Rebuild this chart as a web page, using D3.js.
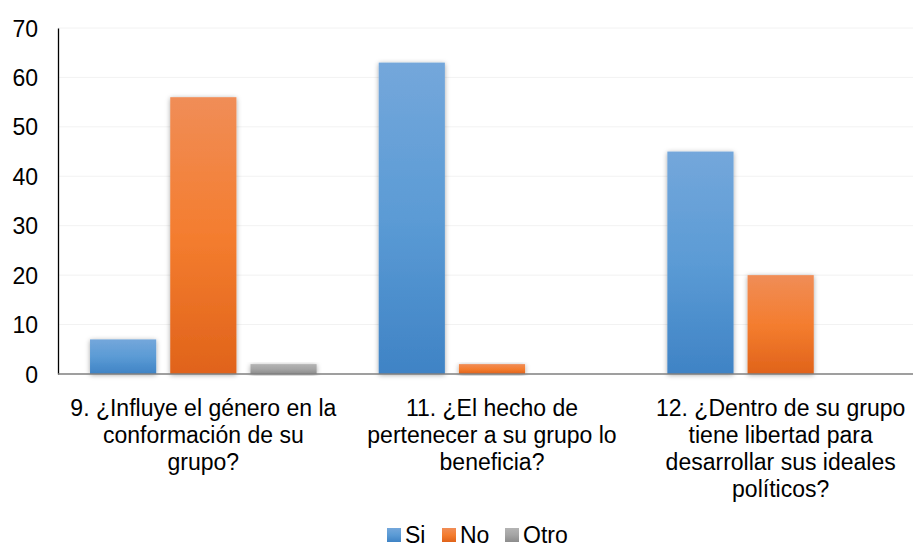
<!DOCTYPE html>
<html>
<head>
<meta charset="utf-8">
<script src="https://cdn.jsdelivr.net/npm/d3@7"></script>
<style>
  body { margin: 0; background: #fff; }
  svg { font-family: "Liberation Sans", Arial, sans-serif; }
  .tick text { font-size: 23px; fill: #000; }
  .cat { font-size: 23px; fill: #000; }
  .leg { font-size: 23px; fill: #000; }
</style>
</head>
<body>
<div id="chart"></div>
<script>
// data
var categories = [
  ["9. ¿Influye el género en la", "conformación de su", "grupo?"],
  ["11. ¿El hecho de", "pertenecer a su grupo lo", "beneficia?"],
  ["12. ¿Dentro de su grupo", "tiene libertad para", "desarrollar sus ideales", "políticos?"]
];
var series = ["Si", "No", "Otro"];
var siValues = [7, 63, 45];
var noValues = [56, 2, 20];
var otroValues = [2, 0, 0];
var yTicks = [0, 10, 20, 30, 40, 50, 60, 70];

var colors = {
  Si:   ["#74a7db", "#5b9bd5", "#3f83c5"],
  No:   ["#f08d57", "#f47d2f", "#e0631a"],
  Otro: ["#b4b4b4", "#a5a5a5", "#8c8c8c"]
};

/////////////////////////////////////////////////////////////////////

var width = 913, height = 548;
var svg = d3.select("#chart").append("svg")
  .attr("width", width)
  .attr("height", height);

var defs = svg.append("defs");
series.forEach(function(s) {
  var g = defs.append("linearGradient")
    .attr("id", "grad" + s)
    .attr("x1", 0).attr("y1", 0).attr("x2", 0).attr("y2", 1);
  g.append("stop").attr("offset", "0%").attr("stop-color", colors[s][0]);
  g.append("stop").attr("offset", "50%").attr("stop-color", colors[s][1]);
  g.append("stop").attr("offset", "100%").attr("stop-color", colors[s][2]);
});
var shadow = defs.append("filter").attr("id", "shadow")
  .attr("x", "-20%").attr("y", "-20%").attr("width", "140%").attr("height", "140%");
shadow.append("feDropShadow")
  .attr("dx", 0).attr("dy", 1).attr("stdDeviation", 2.5)
  .attr("flood-color", "#000").attr("flood-opacity", 0.35);

var x0 = d3.scaleBand()
  .domain(d3.range(categories.length))
  .range([59, 925])
  .paddingInner(0.215)
  .paddingOuter(0.1075);

var x1 = d3.scaleBand()
  .domain(series)
  .range([0, x0.bandwidth()])
  .paddingInner(0.175);

var y = d3.scaleLinear()
  .domain([0, 70])
  .range([374, 28]);

// faint gridlines
svg.append("g")
  .selectAll("line")
  .data(yTicks.slice(1))
  .enter().append("line")
  .attr("x1", 58).attr("x2", width)
  .attr("y1", function(d) { return y(d); })
  .attr("y2", function(d) { return y(d); })
  .attr("stroke", "#f2f2f2")
  .attr("stroke-width", 1);

// y axis
var yAxis = svg.append("g")
  .attr("transform", "translate(58,0)")
  .call(d3.axisLeft(y).tickValues(yTicks).tickSize(0).tickPadding(20));
yAxis.select(".domain").attr("stroke", "#000").attr("stroke-width", 1.3);
yAxis.selectAll(".tick text").attr("dy", "0.35em");

// bars
var rows = categories.map(function(c, i) {
  return [
    { s: "Si", v: siValues[i] },
    { s: "No", v: noValues[i] },
    { s: "Otro", v: otroValues[i] }
  ];
});

var groups = svg.append("g").selectAll("g")
  .data(rows)
  .enter().append("g")
  .attr("transform", function(d, i) { return "translate(" + x0(i) + ",0)"; });

groups.selectAll("rect")
  .data(function(d) { return d.filter(function(b) { return b.v > 0; }); })
  .enter().append("rect")
  .attr("x", function(d) { return x1(d.s); })
  .attr("y", function(d) { return y(d.v); })
  .attr("width", x1.bandwidth())
  .attr("height", function(d) { return y(0) - y(d.v); })
  .attr("fill", function(d) { return "url(#grad" + d.s + ")"; })
  .attr("filter", "url(#shadow)");

// x axis line
svg.append("line")
  .attr("x1", 58).attr("x2", width)
  .attr("y1", y(0)).attr("y2", y(0))
  .attr("stroke", "#7f7f7f")
  .attr("stroke-width", 1.6);

// category labels
var catLabels = svg.append("g").selectAll("text")
  .data(categories)
  .enter().append("text")
  .attr("class", "cat")
  .attr("text-anchor", "middle")
  .attr("x", function(d, i) { return x0(i) + x0.bandwidth() / 2; })
  .attr("y", 416);

catLabels.selectAll("tspan")
  .data(function(d) { return d; })
  .enter().append("tspan")
  .attr("x", function() { return d3.select(this.parentNode).attr("x"); })
  .attr("dy", function(d, i) { return i === 0 ? 0 : 27; })
  .text(function(d) { return d; });

// legend
var legendX = [387, 442, 505];
var legend = svg.append("g").selectAll("g")
  .data(series)
  .enter().append("g")
  .attr("transform", function(d, i) { return "translate(" + legendX[i] + ",528)"; });
legend.append("rect")
  .attr("width", 14).attr("height", 14)
  .attr("fill", function(d) { return "url(#grad" + d + ")"; });
legend.append("text")
  .attr("class", "leg")
  .attr("x", 18).attr("y", 15)
  .text(function(d) { return d; });
</script>
</body>
</html>
